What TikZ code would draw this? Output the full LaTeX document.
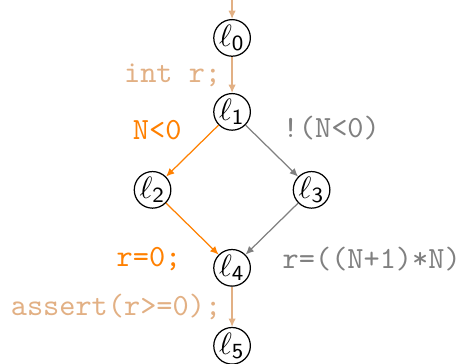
\documentclass[tikz,border=0pt]{standalone}
\usepackage{amsmath, amssymb}
\usepackage{xcolor}
\usepackage{tikz}
\usetikzlibrary{arrows.meta, positioning}

\definecolor{seqcol}{RGB}{226,176,132}
\definecolor{thencol}{RGB}{255,128,0}
\definecolor{elsecol}{RGB}{128,128,128}

\newcommand{\loc}[1]{$\ell_{\mathsf{#1}}$}

\begin{document}
\begin{tikzpicture}[
    on grid,
    node distance=25.3pt and 25.8pt,
    loc/.style={circle, draw, inner sep=0pt, minimum size=10.4pt},
    seq/.style={-{Latex[length=2.7pt, width=2.4pt]}, seqcol},
    yes/.style={-{Latex[length=2.7pt, width=2.4pt]}, thencol},
    no/.style={-{Latex[length=2.7pt, width=2.4pt]}, elsecol},
    stmt/.style={font=\ttfamily}
  ]
  \useasboundingbox (-75.3pt,12.3pt) rectangle (74.6pt,-105.8pt);

  \node[loc] (l0) at (0,0) {\loc{0}};
  \node[loc, below=24pt of l0] (l1) {\loc{1}};
  \node[loc, below left=of l1] (l2) {\loc{2}};
  \node[loc, below right=of l1] (l3) {\loc{3}};
  \node[loc, below right=of l2] (l4) {\loc{4}};
  \node[loc, below=of l4] (l5) {\loc{5}};
  \coordinate[above=12.3pt of l0] (init);

  % straight-line part
  \draw[seq] (init) -- (l0);
  \draw[seq] (l0) -- node[stmt, left, seqcol] {int r;} (l1);

  % the two branches
  \draw[yes] (l1) -- node[stmt, above left, thencol] {N<0} (l2);
  \draw[no] (l1) -- node[stmt, above right, elsecol] {!(N<0)} (l3);
  \draw[yes] (l2) -- node[stmt, below left, yshift=-2.5pt, thencol] {r=0;} (l4);
  \draw[no] (l3) -- node[stmt, below right, yshift=-2.5pt, elsecol] {r=((N+1)*N)} (l4);

  % check
  \draw[seq] (l4) -- node[stmt, left, seqcol] {assert(r>=0);} (l5);
\end{tikzpicture}
\end{document}
